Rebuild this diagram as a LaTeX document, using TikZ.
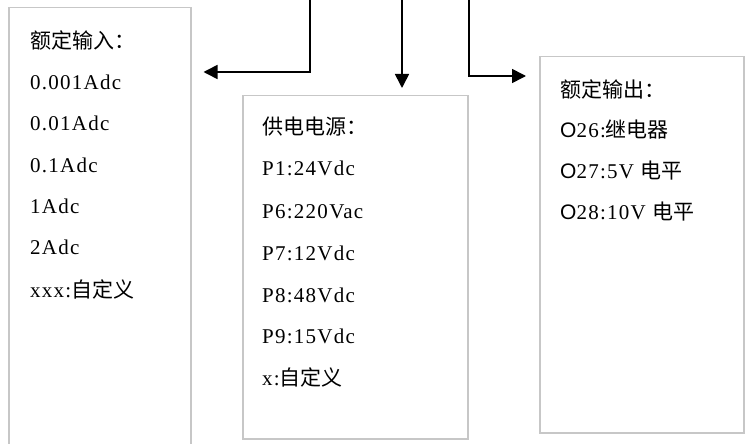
\documentclass[tikz,border=0pt]{standalone}
\usepackage{fontspec}
\setmainfont{Liberation Serif}[LetterSpace=6]
\setsansfont{Liberation Sans}
\newfontfamily\cjk{Noto Sans CJK SC}
\usetikzlibrary{arrows.meta}

\newcommand{\zh}[1]{{\cjk #1}}

\tikzset{
  panel/.style={rectangle, draw=black!22, line width=1.5pt, inner sep=0pt, anchor=north west},
  feed/.style={draw, line width=1.6pt, -{Triangle[length=14pt,width=14pt]}},
  entry/.style={anchor=west, inner sep=0pt, font=\fontsize{21}{21}\selectfont},
}

\begin{document}
\begin{tikzpicture}[x=1pt, y=-1pt]

      \clip (0,0) rectangle (750,444);
      \useasboundingbox (0,0) rectangle (750,444);

      % boxes
      \node[panel, minimum width=182pt, minimum height=460pt] (inbox)    at (8,7)    {};
      \node[panel, minimum width=225pt, minimum height=343pt] (powerbox) at (242,95) {};
      \node[panel, minimum width=204pt, minimum height=376pt] (outbox)   at (539,56) {};

      % rated input
      \begin{scope}[every node/.style={entry}]
        \node (in0) at (30,40)  {\zh{额定输入：}};
        \node (in1) at (30,82)  {0.001Adc};
        \node (in2) at (30,123) {0.01Adc};
        \node (in3) at (30,165) {0.1Adc};
        \node (in4) at (30,206) {1Adc};
        \node (in5) at (30,247) {2Adc};
        \node (in6) at (30,289) {xxx:\zh{自定义}};
      \end{scope}

      % power supply
      \begin{scope}[every node/.style={entry}]
        \node (pw0) at (262,127) {\zh{供电电源：}};
        \node (pw1) at (262,168) {P1:24Vdc};
        \node (pw2) at (262,212) {P6:220Vac};
        \node (pw3) at (262,253) {P7:12Vdc};
        \node (pw4) at (262,295) {P8:48Vdc};
        \node (pw5) at (262,336) {P9:15Vdc};
        \node (pw6) at (262,377) {x:\zh{自定义}};
      \end{scope}

      % rated output
      \begin{scope}[every node/.style={entry}]
        \node (out0) at (560,89)  {\zh{额定输出：}};
        \node (out1) at (560,130) {{\sffamily O}26:\zh{继电器}};
        \node (out2) at (560,171) {{\sffamily O}27:5V \zh{电平}};
        \node (out3) at (560,212) {{\sffamily O}28:10V \zh{电平}};
      \end{scope}

      % feeds from above
      \coordinate (feedL) at (310,0);
      \coordinate (feedM) at (402,0);
      \coordinate (feedR) at (469,0);

      \draw[feed, shorten >=12pt] (feedL) |- ([yshift=-65pt]inbox.north east);
      \draw[feed, shorten >=7pt]  (feedM) -- (powerbox.north -| feedM);
      \draw[feed, shorten >=13pt] (feedR) |- ([yshift=-20pt]outbox.north west);

    \end{tikzpicture}
\end{document}
